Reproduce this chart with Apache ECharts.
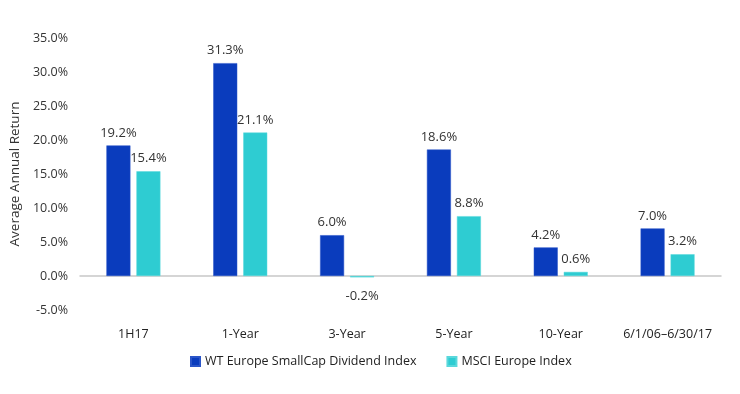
<!DOCTYPE html>
<html><head><meta charset="utf-8">
<script src="https://cdn.jsdelivr.net/npm/echarts@6/dist/echarts.min.js"></script>
<style>html,body{margin:0;padding:0;background:#fff}#c{width:740px;height:394px}</style>
</head><body><div id="c"></div>
<script>
const categories = ['1H17','1-Year','3-Year','5-Year','10-Year','6/1/06\u20136/30/17'];
const wtValues = [19.2, 31.3, 6.0, 18.6, 4.2, 7.0];
const msciValues = [15.4, 21.1, -0.2, 8.8, 0.6, 3.2];
const seriesNames = ['WT Europe SmallCap Dividend Index','MSCI Europe Index'];
const font = "'Open Sans', 'Noto Sans', sans-serif";
const chart = echarts.init(document.getElementById('c'));
const lbl = {show:true, position:'top', distance:6, color:'#333', fontSize:13, fontFamily:font, formatter:p=>p.value.toFixed(1)+'%'};
chart.setOption({
  animation:false,
  grid:{left:80, right:19, top:38, bottom:84, containLabel:false},
  legend:{bottom:21, left:185, itemWidth:9, itemHeight:9, itemGap:30, icon:'rect',
    textStyle:{fontSize:12.5, color:'#222', fontFamily:font}, data:seriesNames},
  xAxis:{type:'category', data:categories, axisTick:{show:false},
    axisLine:{onZero:true, lineStyle:{color:'#c8c8c8', width:1.5}},
    axisLabel:{color:'#222', fontSize:12.5, fontFamily:font, margin:18, interval:0}},
  yAxis:{type:'value', min:-5, max:35, interval:5, name:'Average Annual Return', nameLocation:'middle', nameGap:53,
    nameTextStyle:{fontSize:13.5, color:'#333', fontFamily:font},
    splitLine:{show:false}, axisLine:{show:false}, axisTick:{show:false},
    axisLabel:{color:'#333', fontSize:12.5, fontFamily:font, margin:12, formatter:v=>v.toFixed(1)+'%'}},
  series:[
    {name:seriesNames[0], type:'bar', data:wtValues, barWidth:24, barGap:'25%',
      itemStyle:{color:'#0A3CBD', borderColor:'#2a55c8', borderWidth:0.5}, label:lbl},
    {name:seriesNames[1], type:'bar',
      data:msciValues.map(v => v < 0 ? {value:v, label:{position:'bottom', distance:12}} : v),
      barWidth:24,
      itemStyle:{color:'#2ECCD2', borderColor:'#5ad8dc', borderWidth:0.5},
      label:lbl}
  ]
});
</script></body></html>
